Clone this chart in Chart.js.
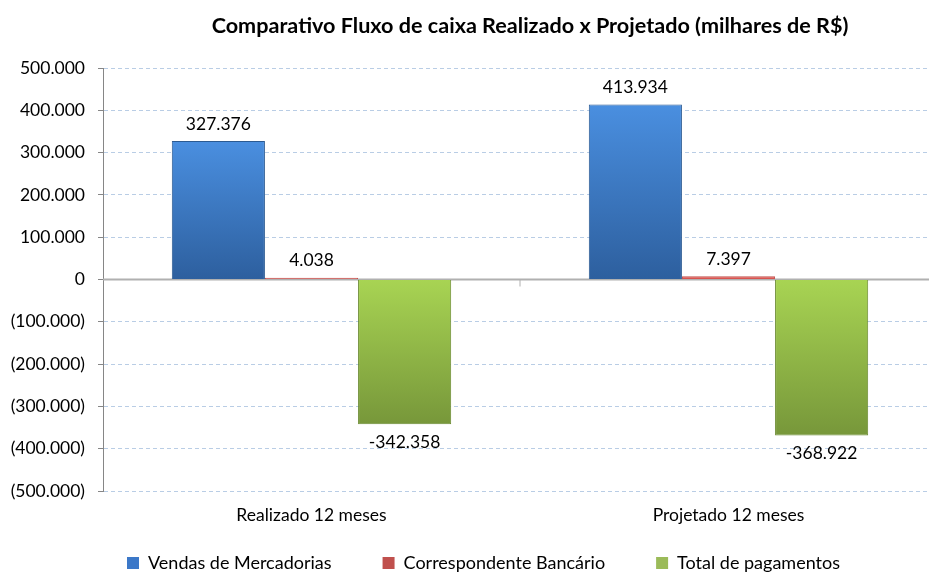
<!DOCTYPE html>
<html>
<head>
<meta charset="utf-8">
<script src="https://cdn.jsdelivr.net/npm/chart.js@4.4.1/dist/chart.umd.min.js"></script>
<style>
    body { margin: 0; background: #fff; overflow: hidden; }
    #wrap { width: 929px; height: 573px; overflow: hidden; }
</style>
</head>
<body>
<div id="wrap">
    <canvas id="GraficoFluxoCaixa" width="953" height="582"></canvas>
</div>
<script>
/*Dados do gráfico*/
var categorias = ['Realizado 12 meses', 'Projetado 12 meses'];
var vendasMercadorias = [327376, 413934];
var correspondenteBancario = [4038, 7397];
var totalPagamentos = [-342358, -368922];
var titulo = 'Comparativo Fluxo de caixa Realizado x Projetado (milhares de R$)';

var fonte = 'Lato';
var tamanho = 17.5;

function formataNumero(v) {
    var s = Math.abs(Math.round(v)).toString().replace(/\B(?=(\d{3})+(?!\d))/g, '.');
    return (v < 0 ? '-' : '') + s;
}

/*Gradiente por barra (claro em cima, escuro embaixo)*/
function gradiente(corTopo, corBase) {
    return function (context) {
        var chart = context.chart;
        if (!chart.chartArea || context.parsed === undefined) return corTopo;
        var y = chart.scales.y;
        var a = y.getPixelForValue(context.parsed.y);
        var b = y.getPixelForValue(0);
        var topo = Math.min(a, b), base = Math.max(a, b);
        if (base - topo < 1) return corTopo;
        var g = chart.ctx.createLinearGradient(0, topo, 0, base);
        g.addColorStop(0, corTopo);
        g.addColorStop(1, corBase);
        return g;
    };
}

var coresLegenda = ['#3c78c8', '#c0504d', '#9bbb59'];

/*Título, linha do zero e rótulos*/
var extras = {
    id: 'extras',
    afterLayout: function (chart) {
        // legenda um pouco deslocada para a direita, como no original
        chart.legend.left += 15;
        chart.legend.right += 15;
    },
    beforeDatasetsDraw: function (chart) {
        var ctx = chart.ctx, area = chart.chartArea;
        var y0 = chart.scales.y.getPixelForValue(0);
        var x = chart.scales.x;
        var xDiv = (x.getPixelForValue(0) + x.getPixelForValue(1)) / 2;
        ctx.save();
        ctx.strokeStyle = '#b0b0b0';
        ctx.lineWidth = 2;
        ctx.beginPath();
        ctx.moveTo(area.left, y0);
        ctx.lineTo(area.right, y0);
        ctx.stroke();
        ctx.lineWidth = 1;
        ctx.beginPath();
        ctx.moveTo(xDiv, y0);
        ctx.lineTo(xDiv, y0 + 7);
        ctx.stroke();
        ctx.restore();
    },
    afterDatasetsDraw: function (chart) {
        var ctx = chart.ctx;
        ctx.save();
        ctx.fillStyle = '#000';
        ctx.font = tamanho + 'px ' + fonte;
        ctx.textAlign = 'center';
        ctx.textBaseline = 'middle';
        chart.data.datasets.forEach(function (ds, i) {
            chart.getDatasetMeta(i).data.forEach(function (el, j) {
                var v = ds.data[j];
                var yy = v >= 0 ? el.y - 17 : el.y + 18;
                ctx.fillText(formataNumero(v), el.x, yy);
            });
        });
        ctx.font = 'bold 21.6px ' + fonte;
        ctx.fillText(titulo, 530, 26);
        ctx.restore();
    }
};

var ctx = document.getElementById('GraficoFluxoCaixa').getContext('2d');

var grafico = new Chart(ctx, {
    type: 'bar',
    data: {
        labels: categorias,
        datasets: [{
            label: 'Vendas de Mercadorias',
            data: vendasMercadorias,
            backgroundColor: gradiente('#4a8fe0', '#2d5f9e'),
            borderColor: '#2b5a92',
            borderWidth: 1
        }, {
            label: 'Correspondente Bancário',
            data: correspondenteBancario,
            backgroundColor: '#d9534f',
            borderColor: '#c0504d',
            borderWidth: 1
        }, {
            label: 'Total de pagamentos',
            data: totalPagamentos,
            backgroundColor: gradiente('#a8d453', '#77973a'),
            borderColor: '#6a8a30',
            borderWidth: 1
        }]
    },
    options: {
        responsive: false,
        animation: false,
        categoryPercentage: 0.67,
        barPercentage: 1,
        layout: { padding: { top: 68, right: 16, left: 0, bottom: 0 } },
        scales: {
            x: {
                grid: { display: false, drawTicks: false },
                border: { display: false },
                afterFit: function (scale) { scale.height = 12; },
                // mirror evita o recorte dos rótulos; padding negativo joga o texto para baixo
                ticks: { color: '#000', mirror: true, padding: -34.5, font: { family: fonte, size: tamanho } }
            },
            y: {
                min: -500000,
                max: 500000,
                afterFit: function (scale) { scale.width = 103; },
                ticks: {
                    stepSize: 100000,
                    color: '#000',
                    padding: 13,
                    font: { family: fonte, size: tamanho },
                    callback: function (v) {
                        if (v === 0) return '0';
                        return v < 0 ? '(' + formataNumero(-v) + ')' : formataNumero(v);
                    }
                },
                grid: {
                    color: '#b9cde5',
                    tickColor: '#868686',
                    tickLength: 5
                },
                border: { display: true, color: '#868686', width: 1, dash: [4, 3] }
            }
        },
        plugins: {
            legend: {
                position: 'bottom',
                labels: {
                    boxWidth: 12,
                    boxHeight: 12,
                    padding: 51,
                    color: '#000',
                    font: { family: fonte, size: 18 },
                    generateLabels: function (chart) {
                        var itens = Chart.defaults.plugins.legend.labels.generateLabels(chart);
                        itens.forEach(function (it, i) {
                            it.fillStyle = coresLegenda[i];
                            it.lineWidth = 0;
                        });
                        return itens;
                    }
                }
            },
            title: { display: false },
            tooltip: { enabled: false }
        }
    },
    plugins: [extras]
});
</script>
</body>
</html>
